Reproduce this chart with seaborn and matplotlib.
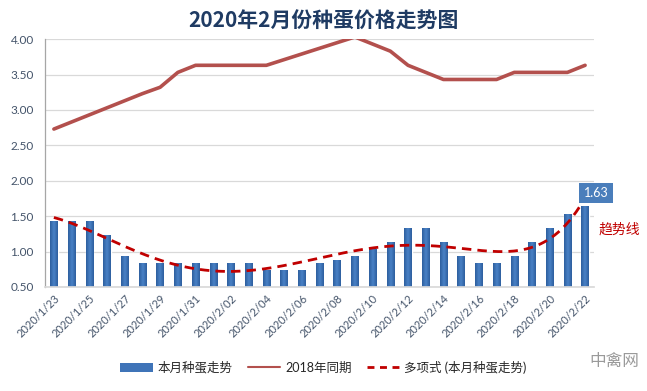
import numpy as np
import pandas as pd
import matplotlib
matplotlib.use("Agg")
import matplotlib.pyplot as plt
import seaborn as sns
from matplotlib.patches import Patch
from matplotlib.lines import Line2D
from matplotlib.colors import LinearSegmentedColormap

# ---- data ----
dates = ["2020/1/23", "2020/1/24", "2020/1/25", "2020/1/26", "2020/1/27", "2020/1/28",
         "2020/1/29", "2020/1/30", "2020/1/31", "2020/2/01", "2020/2/02", "2020/2/03",
         "2020/2/04", "2020/2/05", "2020/2/06", "2020/2/07", "2020/2/08", "2020/2/09",
         "2020/2/10", "2020/2/11", "2020/2/12", "2020/2/13", "2020/2/14", "2020/2/15",
         "2020/2/16", "2020/2/17", "2020/2/18", "2020/2/19", "2020/2/20", "2020/2/21",
         "2020/2/22"]
this_month = [1.43, 1.43, 1.43, 1.23, 0.93, 0.83, 0.83, 0.83, 0.83, 0.83, 0.83,
              0.83, 0.73, 0.73, 0.73, 0.83, 0.88, 0.93, 1.03, 1.13, 1.33, 1.33,
              1.13, 0.93, 0.83, 0.83, 0.93, 1.13, 1.33, 1.53, 1.63]
same_2018 = [2.73, 2.83, 2.93, 3.03, 3.13, 3.23, 3.32, 3.53, 3.63, 3.63, 3.63,
             3.63, 3.63, 3.71, 3.79, 3.87, 3.95, 4.03, 3.93, 3.83, 3.63, 3.53,
             3.43, 3.43, 3.43, 3.43, 3.53, 3.53, 3.53, 3.53, 3.63]
y_ticks = [0.50, 1.00, 1.50, 2.00, 2.50, 3.00, 3.50, 4.00]
title = "2020年2月份种蛋价格走势图"
legend_labels = ["本月种蛋走势", "2018年同期", "多项式 (本月种蛋走势)"]

df = pd.DataFrame({"pos": np.arange(len(dates)), "date": dates,
                   "this": this_month, "y2018": same_2018})

# polynomial trendline (order 6) fitted to the bars, as the spreadsheet does
poly = np.polynomial.Polynomial.fit(df["pos"] + 1, df["this"], 6)
xs = np.linspace(0, len(dates) - 1, 300)
trend = pd.DataFrame({"pos": xs, "trend": poly(xs + 1)})

# ---- style ----
sns.set_theme(style="white")
plt.rcParams["font.family"] = ["Lato", "Noto Sans CJK SC", "DejaVu Sans"]

fig = plt.figure(figsize=(6.47, 3.91), dpi=100)
ax = fig.add_axes([0.0696, 0.266, 0.918 - 0.0696, 0.634])

bar_c = "#3f74b8"
line_c = "#b3504d"
trend_c = "#c00000"
y_min, y_max = 0.5, 4.0

for yv in y_ticks:
    ax.axhline(yv, color="#d9d9d9", lw=0.9, zorder=0)

sns.barplot(data=df, x="pos", y="this", native_scale=True, width=0.42,
            color=bar_c, saturation=1, ax=ax, zorder=2)
sns.lineplot(data=df, x="pos", y="y2018", color=line_c, lw=2.6, ax=ax, zorder=3)
sns.lineplot(data=trend, x="pos", y="trend", color=trend_c, lw=2.0, ax=ax,
             zorder=4, dashes=False, linestyle=(0, (3.4, 2.2)))

# gradient fill for the bars (horizontal shading, as in the original)
grad_cmap = LinearSegmentedColormap.from_list("g", ["#2d5e9e", "#4a82c6", "#2d5e9e"])
grad = np.linspace(0, 1, 64).reshape(1, -1)
for p in list(ax.patches):
    x0, y0 = p.get_x(), p.get_y()
    w, h = p.get_width(), p.get_height()
    p.set_facecolor("none")
    im = ax.imshow(grad, cmap=grad_cmap, aspect="auto", zorder=2,
                   extent=[x0, x0 + w, max(y0, y_min), y0 + h],
                   interpolation="bilinear")

ax.set_xlim(-0.5, len(dates) - 0.5)
ax.set_ylim(y_min, y_max)

ax.set_yticks(y_ticks)
ax.set_yticklabels([f"{v:.2f}" for v in y_ticks], fontsize=8.5, color="#44546a")
even = df["pos"][::2]
ax.set_xticks(even)
ax.set_xticklabels(df["date"][::2], rotation=45, ha="right", rotation_mode="anchor",
                   fontsize=8, color="#44546a")
ax.tick_params(axis="y", length=0, pad=8)
ax.tick_params(axis="x", length=0, pad=4)
ax.set_xlabel("")
ax.set_ylabel("")
for s in ["top", "right"]:
    ax.spines[s].set_visible(False)
ax.spines["left"].set_color("#a6a6a6")
ax.spines["bottom"].set_color("#d9d9d9")
ax.spines["left"].set_linewidth(0.9)

fig.text(0.5, 0.945, title, ha="center", va="center", fontsize=15,
         fontweight="bold", color="#1f3b63",
         family=["Noto Sans CJK SC", "DejaVu Sans"])

# data label on last bar
ax.annotate(f"{this_month[-1]:.2f}", xy=(len(dates) - 1, this_month[-1]),
            xytext=(8, 10), textcoords="offset points", ha="center", va="center",
            fontsize=9, color="white", zorder=6,
            bbox=dict(boxstyle="square,pad=0.35", fc="#4a7ebb", ec="none"))

fig.text(0.958, 0.412, "趋势线", ha="center", va="center", fontsize=10,
         color=trend_c, family=["Noto Sans CJK SC", "DejaVu Sans"])

handles = [Patch(facecolor=bar_c, edgecolor="none"),
           Line2D([], [], color=line_c, lw=1.5),
           Line2D([], [], color=trend_c, lw=2, linestyle=(0, (2.5, 2)))]
fig.legend(handles, legend_labels, loc="center", bbox_to_anchor=(0.5, 0.061),
           ncol=3, frameon=False, handlelength=2.6,
           columnspacing=1.2, handletextpad=0.4,
           prop={"family": ["Lato", "Noto Sans CJK SC", "DejaVu Sans"], "size": 9})

fig.text(0.95, 0.075, "中禽网", ha="center", va="center", fontsize=12,
         color="#9a9a9a", family=["Noto Sans CJK SC", "DejaVu Sans"])

fig.savefig("out.png", dpi=100)
